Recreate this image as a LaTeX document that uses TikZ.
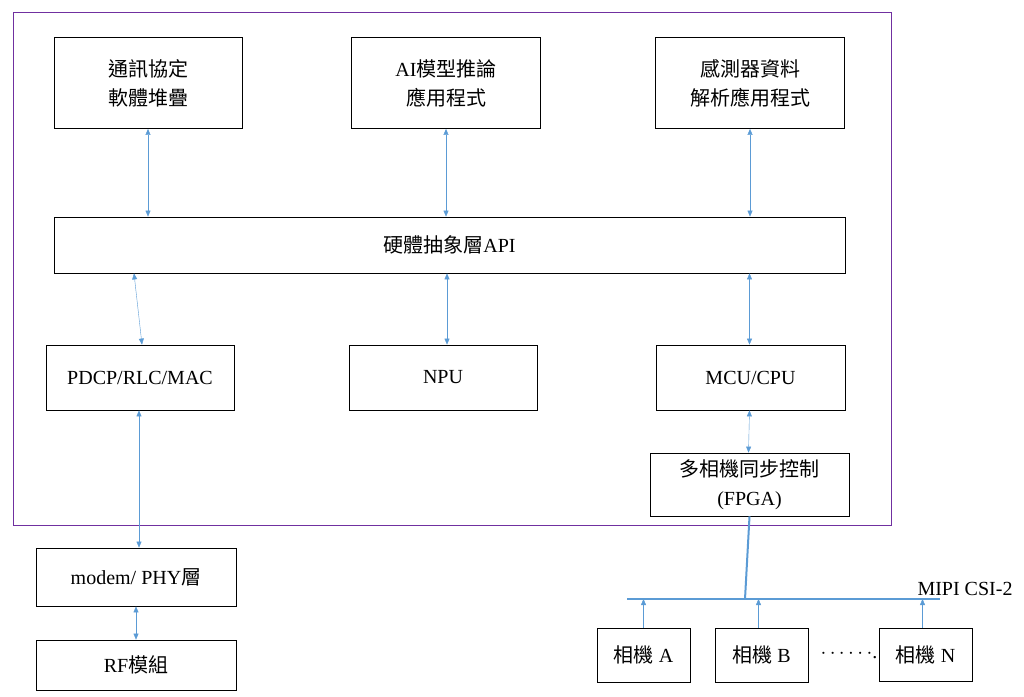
\documentclass[tikz,border=0pt]{standalone}
\usepackage{fontspec}
\setmainfont{Liberation Serif}
\newfontfamily\cjk{Noto Sans CJK TC}
\usetikzlibrary{arrows.meta}
\definecolor{linkblue}{RGB}{91,155,213}
\definecolor{framepurple}{RGB}{112,48,160}
\tikzset{
	box/.style={draw=black, thick, minimum height=#1, align=center, inner sep=0pt,
		font=\fontsize{20}{29}\selectfont},
	link/.style={{Triangle[width=5pt,length=6pt]}-{Triangle[width=5pt,length=6pt]}, linkblue, thin},
	uplink/.style={-{Triangle[width=5pt,length=6pt]}, linkblue, thin},
	bus/.style={linkblue, line width=2pt}
}
\begin{document}
\begin{tikzpicture}[x=1pt,y=-1pt]
	\useasboundingbox (0,0) rectangle (1024,696);
	\draw[framepurple, thick] (13,12) rectangle (891,525);

	% application layer
	\node[box=91pt, minimum width=188pt] (proto) at (148,83) {{\cjk 通訊協定}\\{\cjk 軟體堆疊}};
	\node[box=91pt, minimum width=189pt] (ai) at (446,83) {AI{\cjk 模型推論}\\{\cjk 應用程式}};
	\node[box=91pt, minimum width=189pt] (sensor) at (750,83) {{\cjk 感測器資料}\\{\cjk 解析應用程式}};

	\node[box=56pt, minimum width=791pt] (hal) at (449.5,245) {{\cjk 硬體抽象層}API};

	% hardware
	\node[box=65pt, minimum width=188pt] (pdcp) at (140,377.5) {PDCP/RLC/MAC};
	\node[box=65pt, minimum width=188pt] (npu) at (443,377.5) {NPU};
	\node[box=65pt, minimum width=189pt] (mcu) at (750.5,377.5) {MCU/CPU};
	\node[box=63pt, minimum width=199pt] (fpga) at (749.5,484.5) {{\cjk 多相機同步控制}\\(FPGA)};

	\node[box=58pt, minimum width=200pt] (modem) at (136,577) {modem/ PHY{\cjk 層}};
	\node[box=50pt, minimum width=200pt] (rf) at (136,665) {RF{\cjk 模組}};

	% cameras
	\node[box=54pt, minimum width=93pt] (camA) at (643.5,655) {{\cjk 相機} A};
	\node[box=54pt, minimum width=93pt] (camB) at (761.5,655) {{\cjk 相機} B};
	\node[box=53pt, minimum width=93pt] (camN) at (925.5,654.5) {{\cjk 相機} N};
	\node[font=\fontsize{20}{24}\selectfont, anchor=east, inner sep=1pt] (dots) at (camN.west) {\raisebox{-2pt}{$\cdots\cdots$.}};

	\coordinate (busL) at (627,599);
	\coordinate (busR) at (940,599);
	\coordinate (busJ) at (745,599);
	\node[font=\fontsize{20}{24}\selectfont, anchor=south, inner sep=2pt] (mipi) at (965,598) {MIPI CSI-2};

	\draw[link] (proto.south) -- (proto.south |- hal.north);
	\draw[link] (ai.south) -- (ai.south |- hal.north);
	\draw[link] (sensor.south) -- (sensor.south |- hal.north);
	\draw[link] ([xshift=-6pt]hal.south -| pdcp.north) -- ([xshift=2pt]pdcp.north);
	\draw[link] ([xshift=4pt]hal.south -| npu.north) -- ([xshift=4pt]npu.north);
	\draw[link] ([xshift=-1pt]hal.south -| mcu.north) -- ([xshift=-1pt]mcu.north);
	\draw[link] ([xshift=-1pt]pdcp.south) -- ([xshift=3pt]modem.north);
	\draw[link] (modem.south) -- (rf.north);
	\draw[link] ([xshift=-1pt]mcu.south) -- ([xshift=-1pt]fpga.north);

	\draw[bus] (fpga.south) -- (busJ);
	\draw[bus, line width=1.5pt] (busL) -- (busR);
	\draw[uplink] (camA.north) -- (camA.north |- busL);
	\draw[uplink] ([xshift=-3pt]camB.north) -- ([xshift=-3pt]camB.north |- busL);
	\draw[uplink] ([xshift=-3pt]camN.north) -- ([xshift=-3pt]camN.north |- busL);
\end{tikzpicture}
\end{document}
